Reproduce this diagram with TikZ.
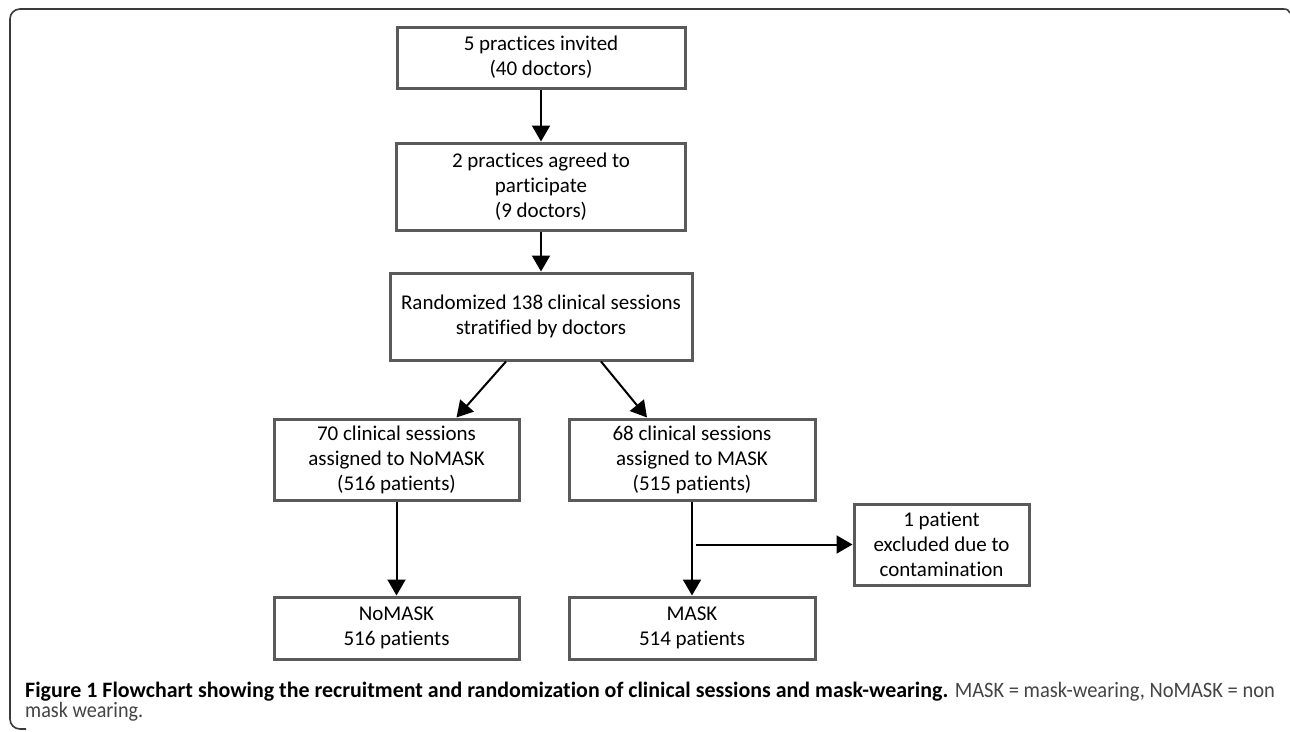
\documentclass[tikz,border=0pt]{standalone}
\usepackage{graphicx}
\usepackage{fontspec}
\setmainfont{Carlito}[Ligatures={NoCommon}]
\usetikzlibrary{arrows.meta}
\definecolor{boxgray}{HTML}{5A5A5A}
\definecolor{framegray}{HTML}{3A3A3A}
\definecolor{capgray}{HTML}{444444}
\begin{document}
\begin{tikzpicture}[x=1pt,y=-1pt,
  box/.style={draw=boxgray, line width=3pt, fill=white, align=center,
    font=\fontsize{21}{25}\selectfont, inner sep=0pt},
  arr/.style={line width=2pt, -{Triangle[width=18pt,length=16pt]}},
  frame/.style={draw=framegray, line width=1.6pt},
  captxt/.style={inner sep=0pt, font=\fontsize{22}{24}\selectfont}]
\useasboundingbox (0,0) rectangle (1290,731);
\fill[white] (0,0) rectangle (1290,731);
% frame
\draw[frame, rounded corners=10pt] (1284,9) -- (10,9) -- (10,729) -- (26,729);
\draw[frame] (1283,9) .. controls (1287,9) and (1289,10) .. (1290,13);
% boxes
\node[box, minimum width=288pt, minimum height=61pt] (b1) at (541,57.5) {5 practices invited\\(40 doctors)};
\node[box, minimum width=289pt, minimum height=87pt] (b2) at (541,186.5) {2 practices agreed to\\participate\\(9 doctors)};
\node[box, minimum width=302pt, minimum height=87pt] (b3) at (541,316.5) {Randomized 138 clinical sessions\\stratified by doctors};
\node[box, minimum width=245pt, minimum height=81pt] (sL) at (396.5,459.5) {70 clinical sessions\\assigned to NoMASK\\(516 patients)};
\node[box, minimum width=246pt, minimum height=81pt] (sR) at (692,459.5) {68 clinical sessions\\assigned to MASK\\(515 patients)};
\node[box, minimum width=175pt, minimum height=81pt] (ex) at (941.5,544.5) {1 patient\\excluded due to\\contamination};
\node[box, minimum width=245pt, minimum height=62pt] (nL) at (396.5,628) {NoMASK\\516 patients};
\node[box, minimum width=246pt, minimum height=62pt] (nR) at (692,628) {MASK\\514 patients};
% arrows
\draw[arr] (b1) -- (b2);
\draw[arr] (b2) -- (b3);
\draw[arr] ([xshift=-35pt]b3.south) -- ([xshift=60pt]sL.north);
\draw[arr] ([xshift=60pt]b3.south) -- ([xshift=-45pt]sR.north);
\draw[arr] (sL) -- (nL);
\draw[arr] (sR) -- (nR);
\coordinate (split) at (696,544.5);
\draw[arr] (split) -- (split -| ex.west);
% caption
\node[captxt, anchor=base west] (capA) at (25,697)
  {\resizebox{923pt}{\height}{\bfseries Figure 1 Flowchart showing the recruitment and randomization of clinical sessions and mask-wearing.}};
\node[captxt, anchor=base east, text=capgray] (capB) at (1275,697)
  {\resizebox{320pt}{\height}{MASK = mask-wearing, NoMASK = non}};
\node[captxt, anchor=base west, text=capgray] (capC) at (25,717)
  {\resizebox{118pt}{\height}{mask wearing.}};
\end{tikzpicture}
\end{document}
